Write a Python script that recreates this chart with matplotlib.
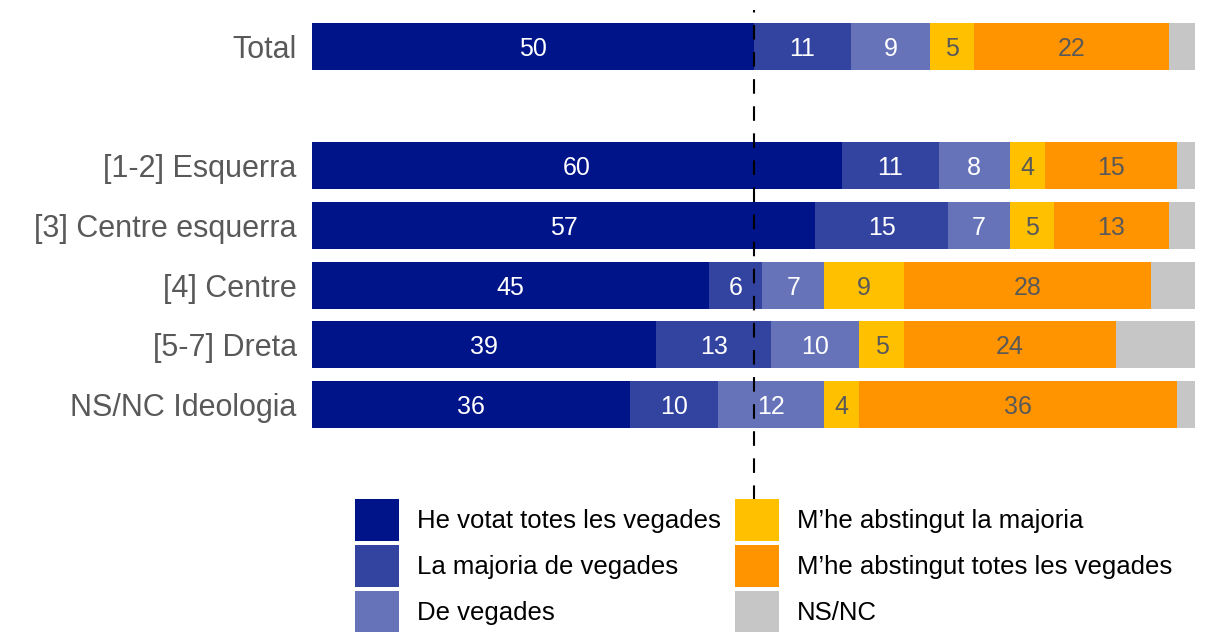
import matplotlib
matplotlib.use('agg')
import matplotlib.pyplot as plt
import numpy as np

plt.rcParams['font.family'] = ['Liberation Sans', 'DejaVu Sans']

categories = ["Total", "[1-2] Esquerra", "[3] Centre esquerra", "[4] Centre",
              "[5-7] Dreta", "NS/NC Ideologia"]
series = ["He votat totes les vegades", "La majoria de vegades", "De vegades",
          "M\u2019he abstingut la majoria", "M\u2019he abstingut totes les vegades", "NS/NC"]
totes = [50, 60, 57, 45, 39, 36]
majoria = [11, 11, 15, 6, 13, 10]
de_vegades = [9, 8, 7, 7, 10, 12]
abst_majoria = [5, 4, 5, 9, 5, 4]
abst_totes = [22, 15, 13, 28, 24, 36]
nsnc = [3, 2, 3, 5, 9, 2]

colors = ["#001489", "#3343A0", "#6673B9", "#FFC000", "#FF9400", "#C6C6C6"]
text_colors = ["white", "white", "white", "#595959", "#595959", None]

# empty slot between Total and the ideology groups
ypos = [0, 2, 3, 4, 5, 6]

fig = plt.figure(figsize=(12.1, 6.32), dpi=100)
ax = fig.add_axes([312 / 1210, 1 - 500 / 632, 883 / 1210, 490 / 632])

data = [totes, majoria, de_vegades, abst_majoria, abst_totes, nsnc]
left = np.zeros(len(categories))
handles = []
for vals, col, tcol, name in zip(data, colors, text_colors, series):
    vals = np.array(vals, dtype=float)
    b = ax.barh(ypos, vals, left=left, height=0.79, color=col, label=name, zorder=2)
    handles.append(b)
    if tcol is not None:
        for y, l, v in zip(ypos, left, vals):
            ax.text(l + v / 2, y, f"{v:.0f}", ha='center', va='center_baseline',
                    color=tcol, fontsize=18, zorder=3)
    left += vals

ax.axvline(50, color='black', lw=1.5, linestyle=(0, (7, 6)), zorder=4)

ax.set_xlim(0, 100)
ax.set_ylim(7.6, -0.61)
ax.set_yticks(ypos)
ax.set_yticklabels(categories, fontsize=22, color='#595959')
ax.tick_params(axis='y', length=0, pad=11)
ax.set_xticks([])
for s in ax.spines.values():
    s.set_visible(False)

# two legend columns placed side by side under the bars
leg_kw = dict(loc='upper left', frameon=False, fontsize=18.5, handlelength=1.72,
              handleheight=2.15, labelspacing=0.14, handletextpad=0.7,
              borderpad=0, borderaxespad=0)
fig.legend(handles[:3], series[:3], bbox_to_anchor=(355 / 1210, 1 - 499 / 632), **leg_kw)
fig.legend(handles[3:], series[3:], bbox_to_anchor=(735 / 1210, 1 - 499 / 632), **leg_kw)

plt.savefig('out.png', dpi=100)
